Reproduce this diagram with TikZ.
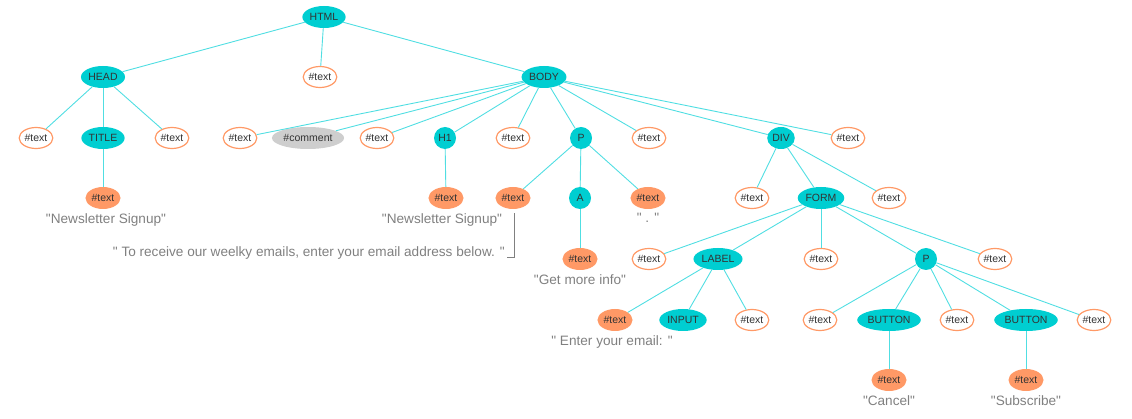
\documentclass[tikz,border=0pt]{standalone}
\usepackage{fontspec}
\setmainfont{Liberation Sans}
\usepackage{tikz}
\usetikzlibrary{shapes,positioning}
\definecolor{elemcol}{RGB}{0,206,209}
\definecolor{textcol}{RGB}{255,153,102}
\definecolor{linkcol}{RGB}{80,222,226}
\definecolor{cmtcol}{RGB}{206,206,206}
\definecolor{capcol}{RGB}{128,128,128}
\definecolor{inkcol}{RGB}{51,51,51}
\newcommand{\qmark}{\textquotedbl}
\tikzstyle{dom} =
        [
                ellipse,
                text = inkcol,
                font = \fontsize{10.5}{12}\selectfont,
                inner xsep = 1pt,
                inner ysep = 0pt,
                minimum height = 22pt,
                minimum width = 22pt
        ]
\tikzstyle{elem} = [dom, fill = elemcol]
\tikzstyle{txt} =
        [
                dom,
                draw = textcol,
                fill = white,
                line width = 1.2pt,
                inner xsep = 0.5pt,
                minimum height = 21pt
        ]
\tikzstyle{txtfill} = [dom, fill = textcol]
\tikzstyle{cmt} = [dom, fill = cmtcol]
\tikzstyle{caption} =
        [
                text = capcol,
                font = \fontsize{13.6}{15}\selectfont,
                inner sep = 0pt
        ]
\tikzstyle{link} =
        [
                draw = linkcol,
                line width = 0.9pt
        ]
\tikzstyle{bracket} =
        [
                draw = capcol,
                line width = 0.8pt
        ]

\begin{document}
\begin{tikzpicture}[x = 1pt, y = -1pt]
    \useasboundingbox (0,0) rectangle (1132,419);
    % document root
    \node [elem] (html) at (324,17) {HTML};
    \node [elem] (head) at (103,77) {HEAD};
    \node [txt] (htmltxt) at (320,77) {\#text};
    \node [elem] (body) at (544,77) {BODY};
    % children of head and body
    \node [txt] (headtxta) at (36,138) {\#text};
    \node [elem] (title) at (103,138) {TITLE};
    \node [txt] (headtxtb) at (172,138) {\#text};
    \node [txt] (bodytxta) at (240,138) {\#text};
    \node [cmt] (comment) at (308,138) {\#comment};
    \node [txt] (bodytxtb) at (377,138) {\#text};
    \node [elem] (h1) at (445,138) {H1};
    \node [txt] (bodytxtc) at (513,138) {\#text};
    \node [elem] (p) at (581,138) {P};
    \node [txt] (bodytxtd) at (649,138) {\#text};
    \node [elem] (div) at (781,138) {DIV};
    \node [txt] (bodytxte) at (848,138) {\#text};
    % third level
    \node [txtfill] (titletxt) at (103,198) {\#text};
    \node [txtfill] (h1txt) at (446,198) {\#text};
    \node [txtfill] (ptxta) at (513,198) {\#text};
    \node [elem] (a) at (580,198) {A};
    \node [txtfill] (ptxtb) at (648,198) {\#text};
    \node [txt] (divtxta) at (752,198) {\#text};
    \node [elem] (form) at (821,198) {FORM};
    \node [txt] (divtxtb) at (889,198) {\#text};
    % form
    \node [txtfill] (atxt) at (580,259) {\#text};
    \node [txt] (formtxta) at (649,259) {\#text};
    \node [elem] (label) at (718,259) {LABEL};
    \node [txt] (formtxtb) at (821,259) {\#text};
    \node [elem] (fp) at (926,259) {P};
    \node [txt] (formtxtc) at (995,259) {\#text};
    \node [txtfill] (labeltxta) at (615,320) {\#text};
    \node [elem] (input) at (683,320) {INPUT};
    \node [txt] (labeltxtb) at (752,320) {\#text};
    \node [txt] (fptxta) at (820,320) {\#text};
    \node [elem] (cancel) at (889,320) {BUTTON};
    \node [txt] (fptxtb) at (957,320) {\#text};
    \node [elem] (subscribe) at (1026,320) {BUTTON};
    \node [txt] (fptxtc) at (1094,320) {\#text};
    \node [txtfill] (canceltxt) at (889,380) {\#text};
    \node [txtfill] (subscribetxt) at (1026,380) {\#text};
    % text values
    \node [caption, below = 4pt of titletxt, xshift = 3pt] (titlecap) {\qmark Newsletter Signup\qmark};
    \node [caption, below = 4pt of h1txt, xshift = -4pt] (h1cap) {\qmark Newsletter Signup\qmark};
    \node [caption, anchor = base east] (pcap) at (505,257) {\qmark{} To receive our weelky emails, enter your email address below. \qmark};
    \node [caption, below = 4pt of atxt] (acap) {\qmark Get more info\qmark};
    \node [caption, below = 4pt of ptxtb] (dotcap) {\qmark{} . \qmark};
    \node [caption, below = 4pt of labeltxta, xshift = -3pt] (labelcap) {\qmark{} Enter your email: \qmark};
    \node [caption, below = 4pt of canceltxt] (cancelcap) {\qmark Cancel\qmark};
    \node [caption, below = 4pt of subscribetxt] (subscribecap) {\qmark Subscribe\qmark};
    \path [bracket] ([xshift = 1pt, yshift = -4pt]ptxta.south) |- ([xshift = 2pt]pcap.base east);
    % tree edges
    \path [link] (html) -- (head);
    \path [link] (html) -- (htmltxt);
    \path [link] (html) -- (body);
    \path [link] (head) -- (headtxta);
    \path [link] (head) -- (title);
    \path [link] (head) -- (headtxtb);
    \path [link] (title) -- (titletxt);
    \path [link] (body) -- (bodytxta);
    \path [link] (body) -- (comment);
    \path [link] (body) -- (bodytxtb);
    \path [link] (body) -- (h1);
    \path [link] (body) -- (bodytxtc);
    \path [link] (body) -- (p);
    \path [link] (body) -- (bodytxtd);
    \path [link] (body) -- (div);
    \path [link] (body) -- (bodytxte);
    \path [link] (h1) -- (h1txt);
    \path [link] (p) -- (ptxta);
    \path [link] (p) -- (a);
    \path [link] (p) -- (ptxtb);
    \path [link] (a) -- (atxt);
    \path [link] (div) -- (divtxta);
    \path [link] (div) -- (form);
    \path [link] (div) -- (divtxtb);
    \path [link] (form) -- (formtxta);
    \path [link] (form) -- (label);
    \path [link] (form) -- (formtxtb);
    \path [link] (form) -- (fp);
    \path [link] (form) -- (formtxtc);
    \path [link] (label) -- (labeltxta);
    \path [link] (label) -- (input);
    \path [link] (label) -- (labeltxtb);
    \path [link] (fp) -- (fptxta);
    \path [link] (fp) -- (cancel);
    \path [link] (fp) -- (fptxtb);
    \path [link] (fp) -- (subscribe);
    \path [link] (fp) -- (fptxtc);
    \path [link] (cancel) -- (canceltxt);
    \path [link] (subscribe) -- (subscribetxt);
\end{tikzpicture}
\end{document}
